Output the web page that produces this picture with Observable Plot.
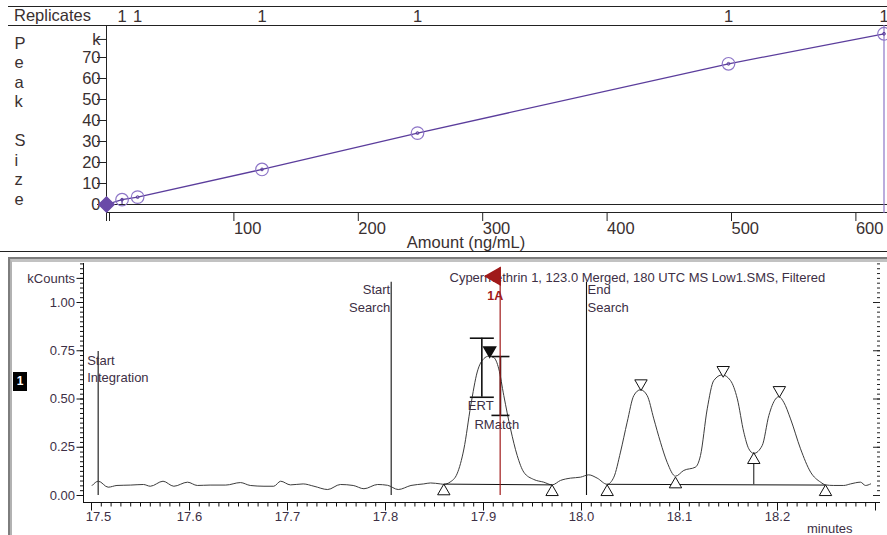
<!DOCTYPE html>
<html><head><meta charset="utf-8">
<script src="https://cdn.jsdelivr.net/npm/d3@7"></script>
<script src="https://cdn.jsdelivr.net/npm/@observablehq/plot@0.6"></script>
<style>
html,body{margin:0;padding:0;background:#fff;}
#wrap{position:relative;width:887px;height:535px;overflow:hidden;background:#fff;font-family:"Liberation Sans",Arial,sans-serif;}
#wrap svg{position:absolute;left:0;}
</style></head>
<body><div id="wrap"></div>
<script>
// ---------- calibration curve ----------
const amounts = [12.5, 25, 125, 250, 500, 625];
const peakSizes = [2.3, 3.5, 16.7, 34.0, 67.0, 81.3];
const replicates = [1, 1, 1, 1, 1, 1];
const originAmount = [0];
const originPeak = [0];
const selectedAmount = [12.5];
const selectedPeak = [2.3];
const limitAmount = [625];
const amountTicks = [0, 100, 200, 300, 400, 500, 600];
const peakTicks = [0, 10, 20, 30, 40, 50, 60, 70, 78.6];

// ---------- chromatogram ----------
const traceTime = [17.5007,17.507,17.517,17.526,17.540,17.553,17.560,17.573,17.584,17.598,
  17.608,17.621,17.637,17.652,17.662,17.676,17.686,17.693,17.703,17.716,
  17.727,17.741,17.754,17.767,17.778,17.792,17.802,17.813,17.826,17.839,
  17.846,17.856,
  17.8595,17.866,17.873,17.880,17.887,17.8936,17.9003,17.9054,17.9105,17.9156,
  17.9207,17.9276,17.9344,17.9411,17.9513,17.9615,17.970,17.9786,17.9888,17.999,
  18.0074,18.016,18.0262,
  18.033,18.0398,18.0466,18.0534,18.0602,18.067,18.0738,18.0806,18.0874,18.0959,
  18.1044,18.1163,18.1214,18.1283,18.135,18.1436,18.152,18.159,18.1656,18.1707,
  18.1758,18.1844,18.1912,18.198,18.2013,18.2064,18.2133,18.2235,18.2338,18.244,
  18.249,18.2574,18.2676,18.2745,18.2847,18.2898,18.295];
const traceKCounts = [0.052,0.074,0.043,0.052,0.054,0.057,0.048,0.074,0.048,0.069,
  0.052,0.054,0.054,0.067,0.052,0.048,0.048,0.074,0.055,0.060,
  0.048,0.031,0.057,0.052,0.035,0.057,0.053,0.031,0.052,0.060,
  0.065,0.060,
  0.058,0.070,0.112,0.241,0.466,0.640,0.709,0.722,0.715,0.656,
  0.518,0.345,0.207,0.121,0.083,0.069,0.055,0.078,0.090,0.095,
  0.107,0.090,0.058,
  0.095,0.225,0.380,0.518,0.548,0.518,0.397,0.276,0.172,0.100,
  0.130,0.147,0.207,0.449,0.596,0.625,0.596,0.501,0.328,0.242,
  0.218,0.259,0.415,0.500,0.512,0.483,0.397,0.242,0.121,0.069,
  0.055,0.052,0.052,0.060,0.069,0.052,0.060];
const eventLabels = ["Start\nIntegration", "Start\nSearch", "End\nSearch"];
const eventTimes = [17.5068, 17.8058, 18.0051];
const eventTops = [0.746, 1.105, 1.105];
const markerLabels = ["1A"];
const markerTimes = [17.917];
const markerTops = [1.18];
const boundTimes = [17.8595, 17.970, 18.0262, 18.0959, 18.1758, 18.249];
const boundLevels = [0.059, 0.055, 0.055, 0.095, 0.221, 0.055];
const apexTimes = [18.0607, 18.1446, 18.2019];
const apexLevels = [0.544, 0.613, 0.509];
const targetApexTime = [17.9063];
const targetApexLevel = [0.717];
const baseStartTimes = [17.8595, 18.0262];
const baseStartLevels = [0.059, 0.058];
const baseEndTimes = [17.970, 18.249];
const baseEndLevels = [0.055, 0.054];
const dropTimes = [18.1758];
const dropLow = [0.056];
const dropHigh = [0.221];
const windowNames = ["ERT", "RMatch"];
const windowTimes = [17.8983, 17.9173];
const windowLow = [0.509, 0.415];
const windowHigh = [0.815, 0.720];
const kTicks = [0, 0.25, 0.5, 0.75, 1.0, 1.125];
const timeTicks = [17.5, 17.6, 17.7, 17.8, 17.9, 18.0, 18.1, 18.2, 18.3];
const chromTitle = "Cypermethrin 1, 123.0 Merged, 180 UTC MS Low1.SMS, Filtered";
const channelLabel = "1";

// ---------- styles ----------
const FONT = '"Liberation Sans", Arial, Helvetica, sans-serif';
const TXT1 = "#3a3030";
const TXT2 = "#3d2f45";
const PURPLE = "#5b3d9c";
const LPURPLE = "#8d75c7";
const RED = "#a01a1a";

const wrap = document.getElementById("wrap");
function box(css, text) {
  const d = document.createElement("div");
  d.style.cssText = "position:absolute;box-sizing:border-box;" + css;
  if (text != null) d.textContent = text;
  wrap.appendChild(d);
  return d;
}
// panel decorations
box("left:8px;top:6px;width:879px;height:1px;background:#222");
box("left:8px;top:25px;width:879px;height:1px;background:#222");
box("left:106px;top:25px;width:1px;height:196px;background:#222");
box("left:106px;top:212px;width:781px;height:1px;background:#222");
box("left:0;top:251px;width:887px;height:1px;background:#222");
box("left:8px;top:257px;width:879px;height:278px;border-top:2px solid #7d7d7d;border-left:2px solid #7d7d7d");
box("left:10px;top:259px;width:877px;height:276px;border-top:3px solid #c2c2c2;border-left:2px solid #b2b2b2");
box("left:83px;top:263px;width:1px;height:240px;background:#111");
box("left:83px;top:502px;width:797px;height:1px;background:#111");
box(`left:14px;top:6px;height:19px;line-height:19px;font:16.5px ${FONT};color:${TXT1}`, "Replicates");
box(`left:13px;top:372px;width:14px;height:19px;background:#000;color:#fff;font:bold 12px ${FONT};text-align:center;line-height:19px`, channelLabel);

// ---------- top: calibration plot ----------
const curveAmounts = originAmount.concat(amounts);
const curvePeaks = originPeak.concat(peakSizes);
const topPlot = Plot.plot({
  width: 887, height: 252,
  marginLeft: 106, marginRight: 0, marginTop: 25, marginBottom: 39,
  style: {fontFamily: FONT, fontSize: "16.5px", color: TXT1, background: "transparent"},
  x: {domain: [0, 625], range: [106, 883.5]},
  y: {domain: [0, 80], range: [204, 36]},
  marks: [
    Plot.ruleY([0], {stroke: "#222"}),
    Plot.axisY({ticks: peakTicks, tickSize: 9, tickPadding: -3, stroke: "#222", fill: TXT1,
      tickFormat: d => d > 75 ? "k" : String(d), fontSize: 16.5, label: null}),
    Plot.axisX({ticks: amountTicks, tickSize: 8, tickPadding: 1, textAnchor: "start", dx: 3,
      stroke: "#222", fill: TXT1, tickFormat: d => d === 0 ? "" : String(d), fontSize: 16.5, label: null}),
    Plot.text(["Amount (ng/mL)"], {frameAnchor: "bottom", lineAnchor: "middle", dx: -31, dy: 29.5, fontSize: 16.5, fill: TXT1}),
    Plot.text(["P\ne\na\nk\n\nS\ni\nz\ne"], {frameAnchor: "left", dx: -92, dy: 1, textAnchor: "start",
      lineHeight: 1.18, fontSize: 16.5, fill: TXT1}),
    Plot.text(replicates, {x: amounts, text: d => String(d), frameAnchor: "top", lineAnchor: "middle", dy: -9, fontSize: 16.5, fill: TXT1}),
    Plot.ruleX(limitAmount, {stroke: LPURPLE, strokeWidth: 1.2}),
    Plot.ruleX(selectedAmount, {y1: selectedPeak, stroke: PURPLE, strokeWidth: 1.2}),
    Plot.line(curveAmounts, {x: curveAmounts, y: curvePeaks, stroke: PURPLE, strokeWidth: 1.3}),
    Plot.dot(amounts, {x: amounts, y: peakSizes, r: 6.3, stroke: LPURPLE, strokeWidth: 1.2, fill: "none"}),
    Plot.dot(amounts, {x: amounts, y: peakSizes, r: 1.4, stroke: PURPLE, strokeWidth: 1, fill: "none"}),
    Plot.dot(originAmount, {x: originAmount, y: originPeak, symbol: "diamond2", r: 6.8, fill: "#6a4aa8", stroke: "#6a4aa8"})
  ]
});
topPlot.style.top = "0px";
wrap.appendChild(topPlot);

// ---------- bottom: chromatogram ----------
const minorK = d3.range(0, 49).map(i => i * 0.025);
const minorT = d3.range(1750, 1831).map(i => i / 100);
const hbar = {draw(ctx, size) { const w = Math.sqrt(size / Math.PI); ctx.moveTo(-w, 0); ctx.lineTo(w, 0); }};
const capPx = [12, 9];
const labelDx = [-14, -26];
const eventStyle = [
  {textAnchor: "start", dx: -11, dy: 16.5, lineHeight: 1.31},
  {textAnchor: "end", dx: -1, dy: 14.8, lineHeight: 1.41},
  {textAnchor: "start", dx: 1, dy: 14.8, lineHeight: 1.41}
];
const idxW = d3.range(windowNames.length);
const idxE = d3.range(eventLabels.length);
const fmtTime = d => d.toFixed(1);

const botPlot = Plot.plot({
  width: 887, height: 283,
  marginLeft: 83, marginRight: 7, marginTop: 11, marginBottom: 33,
  style: {fontFamily: FONT, fontSize: "13px", color: TXT2, background: "transparent"},
  x: {domain: [17.5, 18.3], range: [91, 875]},
  y: {domain: [0, 1], range: [243, 50]},
  marks: [
    Plot.axisY({ticks: minorK, tickSize: 3, stroke: "#111", tickFormat: () => "", label: null}),
    Plot.axisY({ticks: kTicks, tickSize: 6.5, tickPadding: 2, stroke: "#111", fill: TXT2, fontSize: 13,
      tickFormat: d => d > 1.1 ? "kCounts" : d3.format(".2f")(d), label: null}),
    Plot.axisY({ticks: minorK, tickSize: 3, dx: 797, stroke: "#222", tickFormat: () => "", label: null}),
    Plot.axisY({ticks: kTicks.filter(d => d <= 1), tickSize: 7, dx: 797, stroke: "#222", tickFormat: () => "", label: null}),
    Plot.axisX({ticks: minorT, tickSize: 4.5, stroke: "#111", tickFormat: () => "", label: null}),
    Plot.axisX({ticks: timeTicks, tickSize: 8.5, tickPadding: 0.8, stroke: "#111", fill: TXT2, fontSize: 13,
      tickFormat: d => (d > 18.25 || d < 17.55) ? "" : fmtTime(d), label: null}),
    Plot.axisX({ticks: timeTicks.slice(0, 1), tickSize: 0, tickPadding: 9.3, dx: 7, stroke: "none", fill: TXT2, fontSize: 13,
      tickFormat: fmtTime, label: null}),
    Plot.text([chromTitle], {frameAnchor: "top-left", lineAnchor: "middle", dx: 366, dy: 14, textAnchor: "start", fontSize: 13, fill: TXT2}),
    Plot.text(["minutes"], {frameAnchor: "bottom-right", lineAnchor: "middle", dx: -28, dy: 26, fontSize: 13, fill: TXT2}),
    Plot.ruleX(eventTimes, {x: eventTimes, y1: eventTops, stroke: "#111", strokeWidth: 1.1}),
    ...idxE.map(i => Plot.text([eventLabels[i]], {x: [eventTimes[i]], y: [eventTops[i]], fontSize: 13, fill: TXT2, ...eventStyle[i]})),
    Plot.line(traceTime, {x: traceTime, y: traceKCounts, stroke: "#3c3c3c", strokeWidth: 1, curve: "monotone-x"}),
    Plot.link(baseStartTimes, {x1: baseStartTimes, y1: baseStartLevels, x2: baseEndTimes, y2: baseEndLevels, stroke: "#111"}),
    Plot.ruleX(dropTimes, {x: dropTimes, y1: dropLow, y2: dropHigh, stroke: "#111"}),
    Plot.dot(boundTimes, {x: boundTimes, y: boundLevels, symbol: "triangle", r: 4.6, dy: 7.1, stroke: "#111", fill: "white", strokeWidth: 1}),
    Plot.dot(apexTimes, {x: apexTimes, y: apexLevels, symbol: "triangle", rotate: 180, r: 4.6, dy: -7.1, stroke: "#111", fill: "white", strokeWidth: 1}),
    Plot.dot(targetApexTime, {x: targetApexTime, y: targetApexLevel, symbol: "triangle", rotate: 180, r: 4.4, dy: -6.8, stroke: "#111", fill: "#111"}),
    Plot.ruleX(windowTimes, {x: windowTimes, y1: windowLow, y2: windowHigh, stroke: "#111", strokeWidth: 1.6}),
    ...idxW.map(i => Plot.dot([windowLow[i], windowHigh[i]], {x: [windowTimes[i], windowTimes[i]], y: d => d, symbol: hbar, r: capPx[i], stroke: "#111", strokeWidth: 1.6, fill: "none"})),
    ...idxW.map(i => Plot.text([windowNames[i]], {x: [windowTimes[i]], y: [windowLow[i]], textAnchor: "start", dx: labelDx[i], dy: 9, fontSize: 13, fill: TXT2})),
    Plot.ruleX(markerTimes, {x: markerTimes, y1: markerTops, y2: markerTimes.map(() => 0), stroke: RED, strokeWidth: 1.2}),
    Plot.dot(markerTimes, {x: markerTimes, y: markerTops, symbol: "triangle", rotate: -90, r: 6.3, dx: -4.9, dy: 8.5, fill: RED, stroke: RED}),
    Plot.text(markerLabels, {x: markerTimes, y: markerTops, dx: -5, dy: 28, fontSize: 12.5, fontWeight: "bold", fill: RED})
  ]
});
botPlot.style.top = "252px";
wrap.appendChild(botPlot);
</script>
</body></html>
